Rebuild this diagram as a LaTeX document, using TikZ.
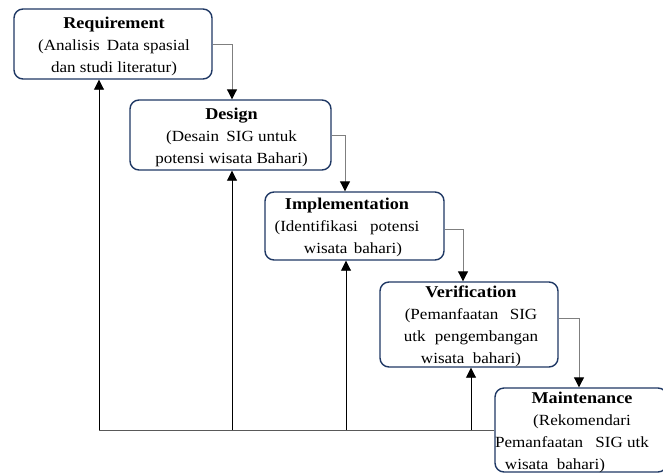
\documentclass[tikz,border=0pt]{standalone}
\usepackage{fontspec}
\setmainfont{Liberation Serif}[FakeStretch=1.1]
\usetikzlibrary{arrows.meta}
\definecolor{navy}{HTML}{1F3864}
\definecolor{conn}{HTML}{7F7F7F}
\newcommand{\ttl}[1]{{\fontsize{16.5}{22}\selectfont\bfseries #1}}
\newcommand{\gap}[1]{\hspace{#1pt}}
\newcommand{\shl}[1]{\hspace*{#1pt}\mbox{}}
\tikzset{
  box/.style={draw=navy, line width=1.4pt, rounded corners=9pt, fill=white, inner sep=0pt},
  txt/.style={align=center, inner sep=0pt, font=\fontsize{15.5}{22}\selectfont},
  down/.style={draw=conn, line width=1pt, -{Triangle[width=10pt,length=10pt,fill=black,color=black]}},
  up/.style={draw=black, line width=0.9pt, -{Triangle[width=10pt,length=10pt]}},
  base/.style={draw=conn!70!black, line width=1pt}
}
\begin{document}
\begin{tikzpicture}[x=1pt,y=-1pt]
\useasboundingbox (0,0) rectangle (663,472);
% boxes
\node[box, minimum width=198pt, minimum height=70pt] (b1) at (113,44) {};
\node[box, minimum width=201pt, minimum height=70pt] (b2) at (230.5,135) {};
\node[box, minimum width=179pt, minimum height=68pt] (b3) at (354.5,226) {};
\node[box, minimum width=178pt, minimum height=85pt] (b4) at (469,324.5) {};
\node[box, minimum width=172pt, minimum height=84pt] (b5) at (581,430) {};
% texts
\node[txt] (t1) at (114,46.8)
  {\ttl{Requirement}\\(Analisis\gap{3} Data spasial\\dan studi literatur)};
\node[txt] (t2) at (231.5,137.5)
  {\ttl{Design}\\(Desain\gap{3} SIG untuk\\potensi wisata Bahari)};
\node[txt] (t3) at (347,227)
  {\ttl{Implementation}\\(Identifikasi\gap{8} potensi\\\shl{12}wisata\gap{2} bahari)};
\node[txt] (t4) at (471,326.5)
  {\ttl{Verification}\\(Pemanfaatan\gap{7} SIG\\utk\gap{5} pengembangan\\wisata\gap{4} bahari)};
\node[txt] (t5) at (582,432.5)
  {\ttl{Maintenance}\\(Rekomendari\\Pemanfaatan\gap{8} SIG utk\shl{20}\\wisata\gap{4} bahari)\shl{54}};
% forward connectors
\draw[down] (b1.east) -| (b2.north -| 232,0);
\draw[down] (b2.east) -| (b3.north -| 345,0);
\draw[down] ([yshift=-3pt]b3.east) -| (b4.north -| 463,0);
\draw[down] ([yshift=6.5pt]b4.east) -| (b5.north -| 579,0);
% return line
\coordinate (c0) at (99,430);
\draw[base] (b5.west |- c0) -- (c0);
\draw[up] (c0) -- (b1.south -| c0);
\draw[up] (232,430) -- (b2.south -| 232,0);
\draw[up] (346,430) -- (b3.south -| 346,0);
\draw[up] (471,430) -- (b4.south -| 471,0);
\end{tikzpicture}
\end{document}
